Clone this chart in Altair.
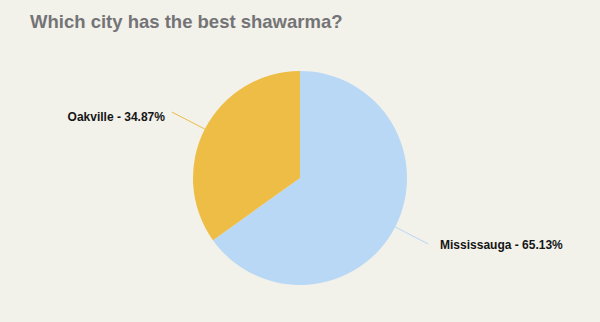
import altair as alt
import pandas as pd

# Survey results
cities = ["Mississauga", "Oakville"]
shares = [65.13, 34.87]
slice_colors = ["#b8d8f5", "#eebd45"]

df = pd.DataFrame({"city": cities, "share": shares, "rank": [0, 1]})

W, H = 600, 284
R_PIE = 107
R_LINE = 144

base = alt.Chart(df).transform_joinaggregate(
    total="sum(share)"
).transform_window(
    cum="sum(share)", sort=[alt.SortField("rank")]
).transform_calculate(
    mid="2*PI*(datum.cum - datum.share/2)/datum.total",
    label="datum.city + ' - ' + format(datum.share, '.2f') + '%'",
)

color = alt.Color(
    "city:N",
    scale=alt.Scale(domain=cities, range=slice_colors),
    legend=None,
)

pie = alt.Chart(df).mark_arc(outerRadius=R_PIE, strokeWidth=0).encode(
    theta=alt.Theta("share:Q", stack=True),
    order=alt.Order("rank:Q"),
    color=color,
)

xs = alt.Scale(domain=[-W / 2, W / 2], range=[0, W])
ys = alt.Scale(domain=[-H / 2, H / 2], range=[H, 0])

# leader lines running outward from the middle of each slice
lines = base.transform_calculate(
    x0=f"sin(datum.mid)*{R_PIE}",
    y0=f"cos(datum.mid)*{R_PIE}",
    x1=f"sin(datum.mid)*{R_LINE}",
    y1=f"cos(datum.mid)*{R_LINE}",
).mark_rule(strokeWidth=1).encode(
    x=alt.X("x0:Q", scale=xs, axis=None),
    y=alt.Y("y0:Q", scale=ys, axis=None),
    x2="x1:Q",
    y2="y1:Q",
    color=color,
)

label_base = base.transform_calculate(
    lx=f"sin(datum.mid)*{R_LINE} + (sin(datum.mid) > 0 ? 12 : -7)",
    ly=f"cos(datum.mid)*{R_LINE} + (sin(datum.mid) > 0 ? -1 : -5)",
)

text_style = dict(fontSize=12, fontWeight="bold", font="Liberation Sans",
                  color="#151515", baseline="middle")

right_labels = label_base.transform_filter("sin(datum.mid) > 0").mark_text(
    align="left", **text_style
).encode(
    x=alt.X("lx:Q", scale=xs, axis=None),
    y=alt.Y("ly:Q", scale=ys, axis=None),
    text="label:N",
)

left_labels = label_base.transform_filter("sin(datum.mid) <= 0").mark_text(
    align="right", **text_style
).encode(
    x=alt.X("lx:Q", scale=xs, axis=None),
    y=alt.Y("ly:Q", scale=ys, axis=None),
    text="label:N",
)

chart = alt.layer(pie, lines, right_labels, left_labels).properties(
    width=W,
    height=H,
    background="#f2f1ea",
    padding={"top": 36, "left": 0, "right": 0, "bottom": 2},
    autosize=alt.AutoSizeParams(type="none"),
    title=alt.TitleParams(
        "Which city has the best shawarma?",
        anchor="start",
        dx=30,
        dy=19,
        offset=9,
        baseline="alphabetic",
        font="Liberation Sans",
        fontSize=18.5,
        fontWeight="bold",
        color="#747476",
    ),
).configure_view(stroke=None)

chart.save("out.html", embed_options={"renderer": "svg", "actions": False})
